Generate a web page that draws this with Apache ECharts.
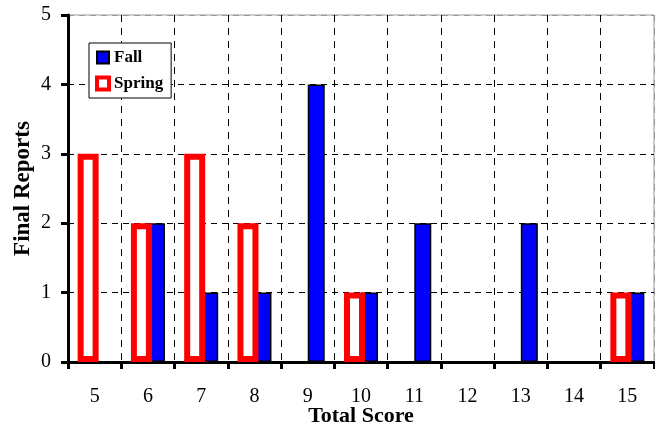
<!DOCTYPE html>
<html>
<head>
<meta charset="utf-8">
<script src="https://cdn.jsdelivr.net/npm/echarts@6/dist/echarts.min.js"></script>
<style>
  html, body { margin: 0; padding: 0; background: #fff; }
  #myChart { width: 655px; height: 427px; }
</style>
</head>
<body>
<div id="myChart"></div>
<script>
var scores = ['5', '6', '7', '8', '9', '10', '11', '12', '13', '14', '15'];
var spring = [3, 2, 3, 2, 0, 1, 0, 0, 0, 0, 1];
var fall = [0, 2, 1, 1, 4, 1, 2, 0, 2, 0, 1];

var serif = 'Liberation Serif';

// empty cells draw nothing
function noZero(arr) {
    return arr.map(function (v) { return v === 0 ? '-' : v; });
}

var myChart = echarts.init(document.getElementById('myChart'));

var vColors = [];
for (var i = 0; i < 12; i++) vColors.push(i == 11 ? '#999' : '#000');

option = {
    animation: false,
    grid: {
        left: 68, right: 1, top: 15, bottom: 65,
        outerBoundsMode: 'none',
        containLabel: false,
        show: true,
        borderColor: '#999',
        borderWidth: 1
    },
    legend: {
        orient: 'vertical',
        left: 89,
        top: 43,
        padding: [6, 8, 6, 6],
        itemWidth: 12,
        itemHeight: 12,
        itemGap: 9,
        borderColor: '#000',
        borderWidth: 1,
        backgroundColor: '#fff',
        textStyle: { fontFamily: serif, fontWeight: 'bold', fontSize: 17, color: '#000' },
        data: [
            { name: 'Fall', icon: 'rect', itemStyle: { color: '#00f', borderColor: '#000', borderWidth: 2 } },
            { name: 'Spring', icon: 'rect', itemStyle: { color: '#fff', borderColor: '#f00', borderWidth: 4 } }
        ]
    },
    xAxis: {
        type: 'category',
        data: scores,
        name: 'Total Score',
        nameLocation: 'middle',
        nameGap: 43,
        nameMoveOverlap: false,
        nameTextStyle: { fontFamily: serif, fontWeight: 'bold', fontSize: 22, color: '#000' },
        axisLine: { lineStyle: { color: '#000', width: 3 } },
        axisTick: { show: true, length: 7, lineStyle: { color: '#000', width: 3 } },
        axisLabel: { fontFamily: serif, fontSize: 20, color: '#000', margin: 25 },
        splitLine: { show: true, lineStyle: { color: vColors, type: [7, 6], width: 1 } }
    },
    yAxis: {
        type: 'value',
        min: 0,
        max: 5,
        interval: 1,
        name: 'Final Reports',
        nameLocation: 'middle',
        nameGap: 33,
        nameMoveOverlap: false,
        nameTextStyle: { fontFamily: serif, fontWeight: 'bold', fontSize: 23, color: '#000' },
        axisLine: { show: true, lineStyle: { color: '#000', width: 3 } },
        axisTick: { show: true, length: 7, lineStyle: { color: '#000', width: 3 } },
        axisLabel: { fontFamily: serif, fontSize: 20, color: '#000', margin: 17 },
        splitLine: { show: true, lineStyle: { color: ['#000', '#000', '#000', '#000', '#000', '#999'], type: [6, 5], width: 1 } }
    },
    series: [
        {
            name: 'Spring',
            type: 'bar',
            z: 3,
            barWidth: 21,
            barGap: '-19%',
            data: noZero(spring),
            itemStyle: { color: '#fff', borderColor: '#f00', borderWidth: 6 }
        },
        {
            name: 'Fall',
            type: 'bar',
            z: 2,
            barWidth: 17,
            data: noZero(fall),
            itemStyle: { color: '#00f', borderColor: '#000', borderWidth: 1.5 }
        }
    ]
};
myChart.setOption(option);
</script>
</body>
</html>
